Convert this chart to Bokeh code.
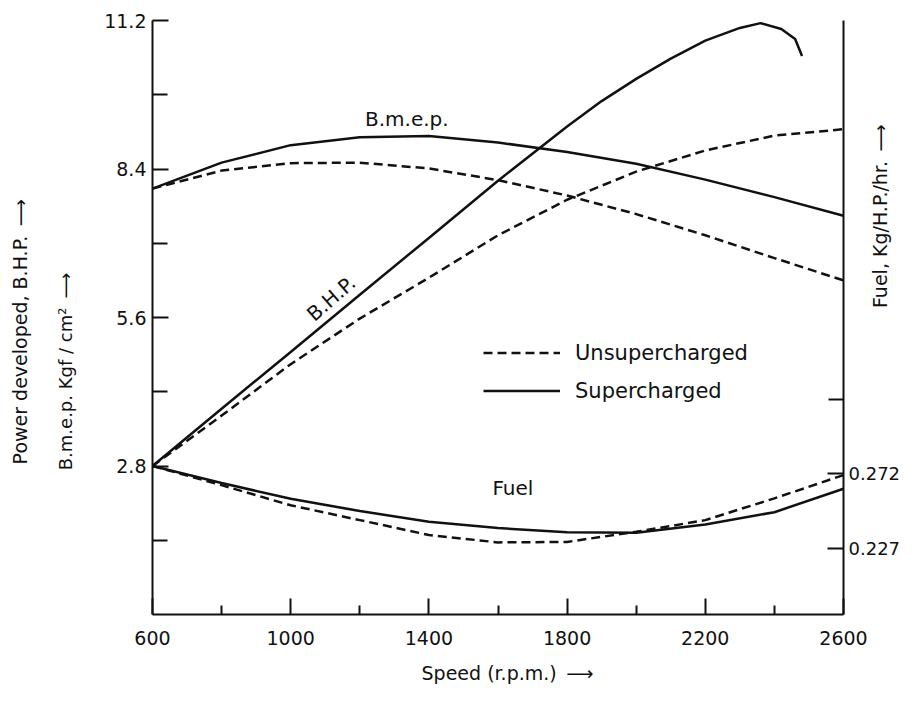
from bokeh.plotting import figure
from bokeh.models import Range1d, LinearAxis, FixedTicker, Legend, LegendItem
from bokeh.core.properties import value
from bokeh.embed import file_html
from bokeh.resources import INLINE
import math

# ---------------- data ----------------
speed = [600, 800, 1000, 1200, 1400, 1600, 1800, 2000, 2200, 2400, 2600]
bmep_super = [8.03, 8.52, 8.85, 9.0, 9.02, 8.9, 8.72, 8.5, 8.2, 7.87, 7.52]
bmep_unsup = [8.03, 8.37, 8.51, 8.52, 8.41, 8.19, 7.9, 7.55, 7.15, 6.72, 6.3]
bhp_unsup = [2.8, 3.75, 4.72, 5.58, 6.35, 7.15, 7.82, 8.35, 8.75, 9.03, 9.15]
speed_bhp_super = [600, 800, 1000, 1200, 1400, 1600, 1800, 1900, 2000, 2100,
                   2200, 2300, 2360, 2420, 2460, 2480]
bhp_super = [2.8, 3.88, 4.95, 6.03, 7.1, 8.18, 9.2, 9.68, 10.1, 10.48,
             10.82, 11.06, 11.15, 11.04, 10.85, 10.53]
fuel_super = [0.2768, 0.2665, 0.2569, 0.2495, 0.2430, 0.2392, 0.2366, 0.2363,
              0.2414, 0.2488, 0.2630]
fuel_unsup = [0.2768, 0.2652, 0.2530, 0.2440, 0.2350, 0.2305, 0.2308, 0.2369,
              0.2440, 0.2572, 0.2713]

x_major = [600, 1000, 1400, 1800, 2200, 2600]
x_minor = [800, 1200, 1600, 2000, 2400]
y_major = [2.8, 5.6, 8.4, 11.2]
y_minor = [1.4, 4.2, 7.0, 9.8]
fuel_major = [0.227, 0.272]
fuel_minor = [0.317]

FONT = "DejaVu Sans"
BLACK = "#111111"
DASH = "9 5"
LW = 2.5
EM = "\u2003"
EN = "\u2002"
ARROW = "\u27f6"

p = figure(width=905, height=691, output_backend="svg", toolbar_location=None,
           x_range=Range1d(600, 2600), y_range=Range1d(0, 11.2),
           min_border_left=152, min_border_right=57, min_border_top=20,
           min_border_bottom=77)
p.outline_line_color = None
p.xgrid.visible = False
p.ygrid.visible = False
p.background_fill_color = "white"
p.border_fill_color = "white"

p.extra_y_ranges = {"fuel": Range1d(0.1868, 0.5468)}

# ---------------- curves ----------------
p.line(speed, bmep_super, line_color=BLACK, line_width=LW)
p.line(speed, bmep_unsup, line_color=BLACK, line_width=LW, line_dash=DASH)
r_bhp_s = p.line(speed_bhp_super, bhp_super, line_color=BLACK, line_width=LW)
r_bhp_u = p.line(speed, bhp_unsup, line_color=BLACK, line_width=LW, line_dash=DASH)
p.line(speed, fuel_super, line_color=BLACK, line_width=LW, y_range_name="fuel")
p.line(speed, fuel_unsup, line_color=BLACK, line_width=LW, line_dash=DASH,
       y_range_name="fuel")

# ---------------- curve labels ----------------
p.text(x=[1336], y=[9.35], text=["B.m.e.p."], text_font=value(FONT),
       text_font_size="20px", text_align="center", text_baseline="middle",
       text_color=BLACK)
p.text(x=[1117], y=[5.96], text=["B.H.P."], text_font=value(FONT),
       text_font_size="20px", text_align="center", text_baseline="middle",
       angle=0.72, text_color=BLACK)
p.text(x=[1643], y=[0.2637], text=["Fuel"], text_font=value(FONT),
       text_font_size="20px", text_align="center", text_baseline="middle",
       text_color=BLACK, y_range_name="fuel")

# ---------------- axes ----------------
def style_axis(ax, size="19px"):
    ax.axis_line_color = BLACK
    ax.axis_line_width = 2
    ax.major_tick_line_color = BLACK
    ax.minor_tick_line_color = BLACK
    ax.major_tick_line_width = 2
    ax.minor_tick_line_width = 2
    ax.major_tick_out = 0
    ax.minor_tick_out = 0
    ax.major_label_text_font = FONT
    ax.major_label_text_font_size = size
    ax.major_label_text_color = BLACK
    ax.axis_label_text_font = FONT
    ax.axis_label_text_font_size = "19px"
    ax.axis_label_text_font_style = "normal"
    ax.axis_label_text_color = BLACK

xa = p.xaxis[0]
xa.ticker = FixedTicker(ticks=x_major, minor_ticks=x_minor)
style_axis(xa)
xa.major_tick_in = 16
xa.minor_tick_in = 9
xa.major_label_standoff = 16
xa.axis_label = EM + "Speed (r.p.m.)" + EN + ARROW
xa.axis_label_standoff = 14

ya = p.yaxis[0]
ya.ticker = FixedTicker(ticks=y_major, minor_ticks=y_minor)
style_axis(ya)
ya.major_tick_in = 16
ya.minor_tick_in = 15
ya.major_label_standoff = 6
ya.axis_label = "B.m.e.p. Kgf / cm²" + EN + ARROW + EM * 6
ya.axis_label_text_font_size = "18px"
ya.axis_label_standoff = 25

outer = LinearAxis(ticker=FixedTicker(ticks=[]))
style_axis(outer)
outer.axis_line_color = None
outer.major_tick_in = 0
outer.major_label_standoff = 0
outer.axis_label = "Power developed, B.H.P." + EN + ARROW + EM + EN
outer.axis_label_standoff = 22
p.add_layout(outer, "left")

ra = LinearAxis(y_range_name="fuel",
                ticker=FixedTicker(ticks=fuel_major, minor_ticks=fuel_minor))
style_axis(ra, "18px")
ra.major_tick_in = 16
ra.minor_tick_in = 15
ra.major_label_standoff = 5
ra.axis_label_standoff = -23
fuel_title = "Fuel, Kg/H.P./hr." + EN + ARROW
if "axis_label_orientation" in ra.properties():
    ra.axis_label_orientation = math.pi / 2
    ra.axis_label = EN + fuel_title
else:
    ra.axis_label = fuel_title + EM * 14
p.add_layout(ra, "right")

# ---------------- legend ----------------
legend = Legend(items=[LegendItem(label="Unsupercharged", renderers=[r_bhp_u]),
                       LegendItem(label="Supercharged", renderers=[r_bhp_s])],
                location=(331, 211), padding=0, margin=0, spacing=13,
                glyph_width=77, glyph_height=25, label_height=25,
                label_standoff=15, label_text_font=FONT,
                label_text_font_size="21px", label_text_color=BLACK,
                border_line_color=None, background_fill_alpha=0)
p.add_layout(legend)

open("out.html", "w").write(file_html(p, INLINE))
